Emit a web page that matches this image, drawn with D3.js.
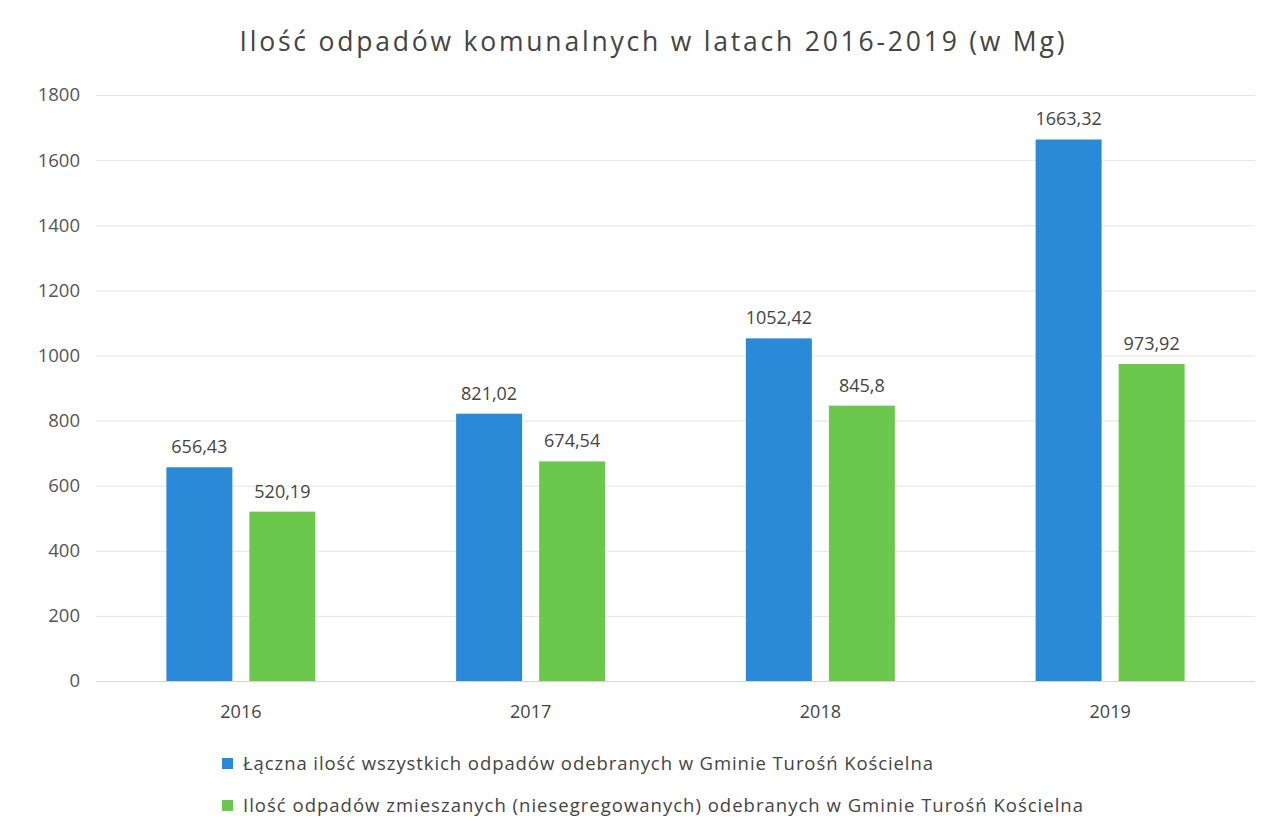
<!DOCTYPE html>
<html><head><meta charset="utf-8">
<script src="https://cdn.jsdelivr.net/npm/d3@7"></script>
<style>body{margin:0;background:#fff}svg{display:block}</style>
</head><body><svg id="c" width="1276" height="833"></svg>
<script>
const title = "Ilość odpadów komunalnych w latach 2016-2019 (w Mg)";
const years = ["2016","2017","2018","2019"];
const totalWaste = [656.43, 821.02, 1052.42, 1663.32];
const mixedWaste = [520.19, 674.54, 845.8, 973.92];
const totalLabels = ["656,43","821,02","1052,42","1663,32"];
const mixedLabels = ["520,19","674,54","845,8","973,92"];
const yTicks = [0,200,400,600,800,1000,1200,1400,1600,1800];
const seriesNames = ["Łączna ilość wszystkich odpadów odebranych w Gminie Turośń Kościelna",
  "Ilość odpadów zmieszanych (niesegregowanych) odebranych w Gminie Turośń Kościelna"];
const colors = ["#2b8ad8","#6cc84c"];

const svg = d3.select("#c");
const font = "'Open Sans', sans-serif";
const x0 = d3.scaleBand().domain(years).range([96,1255]).paddingInner(0).paddingOuter(0);
const y = d3.scaleLinear().domain([0,1800]).range([681,95]);
const x1 = d3.scaleBand().domain([0,1]).range([x0.bandwidth()/2-74.5, x0.bandwidth()/2+74.5]).paddingInner(0.205);

svg.append("text").attr("x",652).attr("y",51).attr("text-anchor","middle")
  .attr("font-family",font).attr("font-size",26.5).attr("fill","#444")
  .attr("textLength",825).attr("lengthAdjust","spacing").text(title);

const yAxis = svg.append("g").attr("transform","translate(96,0)")
  .call(d3.axisLeft(y).tickValues(yTicks).tickFormat(d3.format("d")).tickSize(-(1255-96)).tickPadding(16));
yAxis.select(".domain").remove();
yAxis.selectAll(".tick line").attr("stroke","#e4e4e4");
yAxis.selectAll(".tick text").attr("font-family",font).attr("font-size",18.5).attr("fill","#555");
yAxis.selectAll(".tick").filter(d=>d===0).select("line").attr("stroke","#d4d4d4");

const xAxis = svg.append("g").attr("transform","translate(0,681)")
  .call(d3.axisBottom(x0).tickSize(0).tickPadding(24));
xAxis.select(".domain").remove();
xAxis.selectAll(".tick text").attr("font-family",font).attr("font-size",18).attr("fill","#444");

const series = [totalWaste, mixedWaste];
const labels = [totalLabels, mixedLabels];
series.forEach((vals,s)=>{
  const g = svg.append("g");
  g.selectAll("rect").data(vals).join("rect")
    .attr("x",(d,i)=>x0(years[i])+x1(s)).attr("width",x1.bandwidth())
    .attr("y",d=>y(d)).attr("height",d=>y(0)-y(d)).attr("fill",colors[s]);
  g.selectAll("text").data(vals).join("text")
    .attr("x",(d,i)=>x0(years[i])+x1(s)+x1.bandwidth()/2).attr("y",d=>y(d)-14)
    .attr("text-anchor","middle").attr("font-family",font).attr("font-size",18).attr("fill","#444")
    .text((d,i)=>labels[s][i]);
});

const lg = svg.append("g");
const legendLens = [690, 840];
seriesNames.forEach((n,i)=>{
  const yy = 764 + i*42;
  lg.append("rect").attr("x",222).attr("y",yy-6).attr("width",11).attr("height",11).attr("fill",colors[i]);
  lg.append("text").attr("x",243).attr("y",yy+6).attr("font-family",font).attr("font-size",18.5)
    .attr("fill","#444").attr("textLength",legendLens[i]).attr("lengthAdjust","spacing").text(n);
});
</script></body></html>
